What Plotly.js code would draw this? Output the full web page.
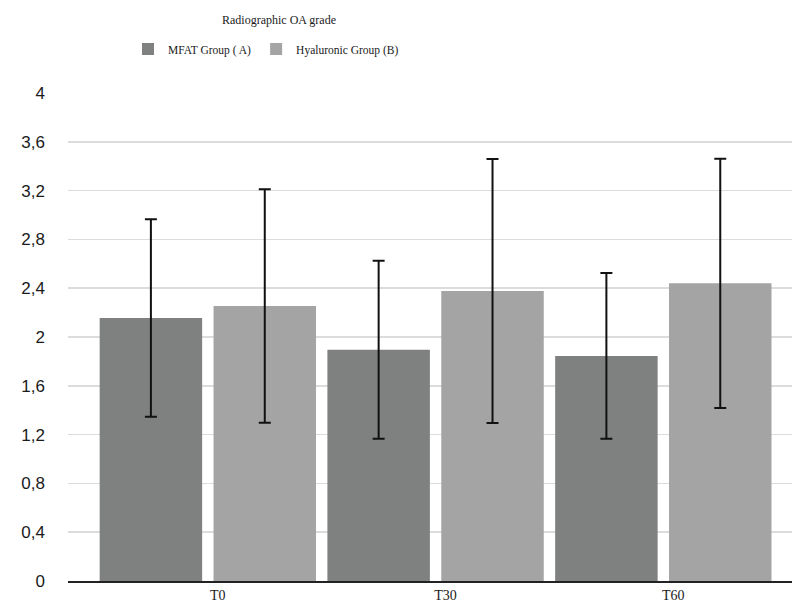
<!DOCTYPE html>
<html>
<head>
<meta charset="utf-8">
<script src="https://cdn.plot.ly/plotly-3.0.1.min.js"></script>
<style>html,body{margin:0;padding:0;background:#fff;}#chart{width:792px;height:603px;}</style>
</head>
<body>
<div id="chart"></div>
<script>
const categories = ["T0", "T30", "T60"];
const seriesNames = ["MFAT Group ( A)", "Hyaluronic Group (B)"];
const mfatValues = [2.156, 1.895, 1.845];
const mfatErrors = [0.81, 0.73, 0.68];
const hyalValues = [2.255, 2.378, 2.44];
const hyalErrors = [0.957, 1.082, 1.022];
const yTicks = [0, 0.4, 0.8, 1.2, 1.6, 2, 2.4, 2.8, 3.2, 3.6, 4];
const yTickLabels = ["0", "0,4", "0,8", "1,2", "1,6", "2", "2,4", "2,8", "3,2", "3,6", "4"];

const errStyle = {type: "data", visible: true, color: "#111", thickness: 2, width: 6};

const traces = [
  {type: "bar", name: seriesNames[0], x: categories, y: mfatValues,
   marker: {color: "#7f8180"},
   error_y: Object.assign({array: mfatErrors}, errStyle), hoverinfo: "skip"},
  {type: "bar", name: seriesNames[1], x: categories, y: hyalValues,
   marker: {color: "#a4a4a4"},
   error_y: Object.assign({array: hyalErrors}, errStyle), hoverinfo: "skip"}
];

const layout = {
  width: 792, height: 603,
  paper_bgcolor: "#fff", plot_bgcolor: "#fff",
  margin: {l: 68, r: 0, t: 93, b: 22, pad: 0},
  barmode: "group", bargap: 0, bargroupgap: 0.1,
  separators: ",.",
  title: {text: "Radiographic OA grade", x: 279/792, xref: "container", xanchor: "center",
          y: 1 - 20/603, yref: "container", yanchor: "middle",
          font: {family: "Liberation Serif, serif", size: 12, color: "#1a1a1a"}},
  showlegend: true,
  legend: {orientation: "h", x: 128/792, xref: "container", xanchor: "left",
           y: 1 - 49/603, yref: "container", yanchor: "middle",
           font: {family: "Liberation Serif, serif", size: 11.5, color: "#1a1a1a"},
           itemwidth: 30, traceorder: "normal", bgcolor: "rgba(0,0,0,0)"},
  xaxis: {type: "category", range: [-0.614, 2.565], showgrid: false, zeroline: false,
          showline: true, linecolor: "#222", linewidth: 2, ticks: "",
          ticklabelshift: 10, ticklabelstandoff: 0, automargin: false,
          tickfont: {family: "Liberation Serif, serif", size: 14, color: "#1a1a1a"}},
  yaxis: {range: [0, 4], tickmode: "array", tickvals: yTicks, ticktext: yTickLabels,
          showgrid: true, gridcolor: "#dcdcdc", gridwidth: 1.5, zeroline: false,
          showline: false, ticks: "", ticklabelstandoff: 22, automargin: false,
          tickfont: {family: "Liberation Sans, Arial, sans-serif", size: 17, color: "#1a1a1a"}}
};

Plotly.newPlot("chart", traces, layout, {staticPlot: true, displayModeBar: false});
</script>
</body>
</html>
